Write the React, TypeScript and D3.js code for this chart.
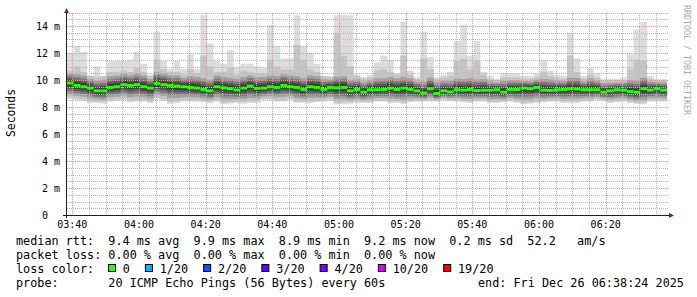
import React from "react";
import * as d3 from "d3";

const START = new Date(2025, 11, 26, 3, 38, 24);
const END = new Date(2025, 11, 26, 6, 38, 24);
const STEP_MIN = 2;

// median rtt per 2-minute step (ms)
const median = [
  9.78, 9.6, 9.5, 9.4, 9.2, 9.2, 9.45, 9.5, 9.65, 9.6, 9.65, 9.5, 9.4, 9.75, 9.65, 9.6, 9.55, 9.5, 9.45, 9.4, 9.3, 9.2,
  9.5, 9.42, 9.35, 9.26, 9.4, 9.55, 9.38, 9.4, 9.5, 9.45, 9.6, 9.5, 9.45, 9.3, 9.5, 9.45, 9.3, 9.45, 9.42, 9.45, 9.2, 9.3, 9.1,
  9.28, 9.28, 9.3, 9.4, 9.3, 9.4, 9.3, 9.2, 9.05, 9.35, 9.0, 9.2, 9.12, 9.28, 9.25, 9.3, 9.22, 9.24, 9.24, 9.28, 9.1, 9.3,
  9.3, 9.4, 9.35, 9.45, 9.25, 9.23, 9.28, 9.3, 9.35, 9.33, 9.28, 9.28, 9.28, 9.1, 9.2, 9.28, 9.25, 9.15, 9.1, 9.35, 9.25, 9.35, 9.25,
];
// lowest ping per step (ms)
const minPing = [
  8.6, 8.5, 8.45, 8.3, 8.3, 8.25, 8.4, 8.45, 8.5, 8.35, 8.4, 8.4, 8.3, 8.55, 8.45, 8.25, 8.3, 8.4, 8.4, 8.4, 8.35, 8.3,
  8.4, 8.2, 8.25, 8.3, 8.25, 8.3, 8.3, 8.5, 8.5, 8.4, 8.4, 8.5, 8.3, 8.3, 8.3, 8.35, 8.4, 8.45, 8.2, 8.2, 8.25, 8.3, 8.3,
  8.3, 8.4, 8.4, 8.3, 8.3, 8.2, 8.35, 8.4, 8.4, 8.4, 8.4, 8.5, 8.45, 8.4, 8.35, 8.3, 8.4, 8.4, 8.3, 8.3, 8.35, 8.4,
  8.3, 8.2, 8.25, 8.3, 8.35, 8.4, 8.4, 8.3, 8.3, 8.3, 8.4, 8.4, 8.5, 8.45, 8.3, 8.35, 8.4, 8.3, 8.2, 8.2, 8.4, 8.4, 8.4,
];
// upper edge of the medium-grey smoke per step (ms)
const upperPing = [
  10.7, 11.0, 10.6, 10.3, 10.2, 10.3, 10.6, 10.6, 10.7, 10.6, 10.9, 10.6, 10.3, 11.5, 10.8, 10.6, 10.6, 10.4, 10.8, 10.5, 11.8, 11.0,
  10.6, 10.6, 10.9, 10.4, 10.7, 10.6, 10.5, 10.5, 11.5, 11.0, 10.8, 10.8, 12.6, 11.5, 10.8, 10.6, 10.3, 10.2, 13.5, 11.8, 11.0, 10.3, 10.1,
  10.2, 10.7, 10.8, 10.6, 10.4, 11.8, 10.4, 10.1, 11.6, 10.8, 10.1, 10.2, 10.3, 11.4, 11.6, 10.8, 11.4, 10.4, 10.1, 10.0, 10.2, 10.2,
  10.2, 10.1, 10.1, 10.2, 10.6, 10.3, 10.2, 10.1, 11.8, 10.6, 10.1, 10.4, 10.2, 10.0, 10.0, 10.0, 10.0, 10.8, 11.5, 11.4, 10.1, 10.0, 10.0,
];
// highest ping per step (ms)
const maxPing = [
  12.0, 12.5, 12.1, 10.3, 11.0, 10.3, 11.4, 11.4, 11.4, 11.5, 12.1, 11.2, 10.4, 13.6, 11.4, 10.8, 11.4, 10.8, 11.9, 10.8, 14.8, 12.7,
  11.4, 11.2, 12.2, 11.0, 11.2, 11.2, 11.0, 10.9, 14.1, 12.5, 11.6, 11.6, 14.8, 12.5, 12.0, 11.2, 10.3, 10.3, 14.8, 14.8, 14.8, 10.4, 10.2,
  10.4, 11.3, 11.8, 11.5, 10.5, 14.3, 10.7, 10.2, 13.6, 11.7, 10.2, 10.4, 10.6, 12.9, 14.1, 11.8, 12.9, 10.6, 10.3, 10.1, 10.5, 10.5,
  10.5, 10.3, 10.3, 10.5, 11.5, 10.7, 10.4, 10.3, 13.5, 11.6, 10.3, 10.9, 10.5, 10.1, 10.1, 10.1, 10.2, 11.9, 13.7, 14.3, 10.3, 10.1, 10.1,
];

const yTicks = [0, 2, 4, 6, 8, 10, 12, 14];
const lossLabels = ["0", "1/20", "2/20", "3/20", "4/20", "10/20", "19/20"];
const lossColors = ["#26ff00", "#00b8ff", "#0059ff", "#5e00ff", "#7e00ff", "#dd00ff", "#ff0000"];

const line1 = "median rtt:  9.4 ms avg  9.9 ms max  8.9 ms min  9.2 ms now  0.2 ms sd  52.2   am/s";
const line2 = "packet loss: 0.00 % avg  0.00 % max  0.00 % min  0.00 % now";
const line3 = "loss color:";
const line4 = "probe:       20 ICMP Echo Pings (56 Bytes) every 60s";
const endText = "end: Fri Dec 26 06:38:24 2025";

// smoke layers (shading): fraction toward median from lower edge / upper edge
const smokeLayers = [
  { fLo: 0.0, fHi: -1, color: "#dcdcdc" },
  { fLo: 0.1, fHi: 0.0, color: "#c4c4c4" },
  { fLo: 0.3, fHi: 0.25, color: "#a0a0a0" },
  { fLo: 0.48, fHi: 0.45, color: "#7a7a7a" },
  { fLo: 0.64, fHi: 0.62, color: "#595959" },
  { fLo: 0.78, fHi: 0.76, color: "#3d3d3d" },
  { fLo: 0.9, fHi: 0.88, color: "#262626" },
];

const MONO = "'DejaVu Sans Mono', monospace";
const PRE: React.CSSProperties = { whiteSpace: "pre" };

export default function App() {
  const W = 697;
  const H = 297;
  const x = d3.scaleTime().domain([START, END]).range([67, 667]);
  const y = d3.scaleLinear().domain([0, 15]).range([215, 12.5]);
  const n = median.length;
  const idx = d3.range(n + 1);
  const t = (i: number) => d3.timeMinute.offset(START, i * STEP_MIN);
  const v = (arr: number[], i: number) => arr[Math.min(i, n - 1)];

  const bandPath = (fLo: number, fHi: number, inner: boolean) =>
    d3
      .area<number>()
      .x((i) => x(t(i)))
      .y0((i) => {
        const lo = v(minPing, i);
        const m = v(median, i);
        return y(lo + (m - lo) * fLo);
      })
      .y1((i) => {
        if (fHi < 0) return y(v(maxPing, i));
        const m = v(median, i);
        const hi = inner ? Math.min(v(upperPing, i), m + 1.1) : v(upperPing, i);
        return y(hi - (hi - m) * fHi);
      })
      .curve(d3.curveStepAfter)(idx) as string;

  const xTicks = x.ticks(d3.timeMinute.every(5) as any);
  const yGrid = d3.range(1, 31).map((k) => k * 0.5);
  const labelTicks = x.ticks(d3.timeMinute.every(20) as any);
  const fmt = d3.timeFormat("%H:%M");

  const charW = 7.11;
  const legendItems: { box: number; label: number }[] = [];
  let bx = 108;
  lossLabels.forEach((lab) => {
    legendItems.push({ box: bx, label: bx + 14.8 });
    bx = bx + 14.8 + lab.length * charW + 15;
  });

  return (
    <svg width={W} height={H} style={{ display: "block", position: "absolute", left: 0, top: 0, background: "#fff" }}>
      <rect x={0} y={0} width={W} height={H} fill="#ffffff" />
      {smokeLayers.map((l, k) => (
        <path key={k} d={bandPath(l.fLo, l.fHi, k >= 2)} fill={l.color} />
      ))}
      <g shapeRendering="crispEdges">
        {xTicks.map((d, k) => {
          const major = d.getMinutes() % 20 === 0;
          const px = Math.round(x(d)) + 0.5;
          return (
            <line key={"vx" + k} x1={px} x2={px} y1={y(15)} y2={215} stroke={major ? "#e89494" : "#b8b8b8"} strokeDasharray="1,1" strokeWidth={1} />
          );
        })}
        {yGrid.map((val, k) => {
          const major = val % 2 === 0;
          const py = Math.round(y(val)) + 0.5;
          return (
            <line key={"hy" + k} x1={67} x2={668} y1={py} y2={py} stroke={major ? "#e89494" : "#b8b8b8"} strokeDasharray="1,1" strokeWidth={1} />
          );
        })}
      </g>
      {median.map((m, i) => (
        <rect key={"m" + i} x={x(t(i))} width={x(t(i + 1)) - x(t(i))} y={y(m) - 1.5} height={3} fill={lossColors[0]} />
      ))}
      <line x1={66.5} x2={66.5} y1={12} y2={218} stroke="#202020" strokeWidth={1} />
      <line x1={63} x2={670} y1={215.5} y2={215.5} stroke="#202020" strokeWidth={1} />
      <path d="M64,13 L66.5,8 L69,13 Z" fill="#801f1f" />
      <path d="M669,213 L674,215.5 L669,218 Z" fill="#801f1f" />
      {yTicks.map((val) => (
        <text key={"yl" + val} x={60} y={y(val) + 3.5} textAnchor="end" fontFamily={MONO} fontSize={10} fill="#000" xmlSpace="preserve" style={PRE}>
          {val === 0 ? "0  " : `${val} m`}
        </text>
      ))}
      {labelTicks.map((d, k) => (
        <text key={"xl" + k} x={x(d)} y={228} textAnchor="middle" fontFamily={MONO} fontSize={10} fill="#000">
          {fmt(d)}
        </text>
      ))}
      <text transform="translate(14.5,113) rotate(-90)" textAnchor="middle" fontFamily={MONO} fontSize={11.4} fill="#000">
        Seconds
      </text>
      <text transform="translate(684,5) rotate(90)" textAnchor="start" fontFamily={MONO} fontSize={8.3} fill="#aaaaaa" xmlSpace="preserve" style={PRE}>
        RRDTOOL / TOBI OETIKER
      </text>
      <g fontFamily={MONO} fontSize={11.8} fill="#000">
        <text x={16} y={245} xmlSpace="preserve" style={PRE}>{line1}</text>
        <text x={16} y={259} xmlSpace="preserve" style={PRE}>{line2}</text>
        <text x={16} y={273} xmlSpace="preserve" style={PRE}>{line3}</text>
        {legendItems.map((it, k) => (
          <g key={"lg" + k}>
            <rect x={it.box + 0.5} y={264.5} width={7} height={7} fill={lossColors[k]} stroke="#000" strokeWidth={1} />
            <text x={it.label} y={273} xmlSpace="preserve" style={PRE}>{lossLabels[k]}</text>
          </g>
        ))}
        <text x={16} y={287} xmlSpace="preserve" style={PRE}>{line4}</text>
        <text x={478} y={287} xmlSpace="preserve" style={PRE}>{endText}</text>
      </g>
    </svg>
  );
}
